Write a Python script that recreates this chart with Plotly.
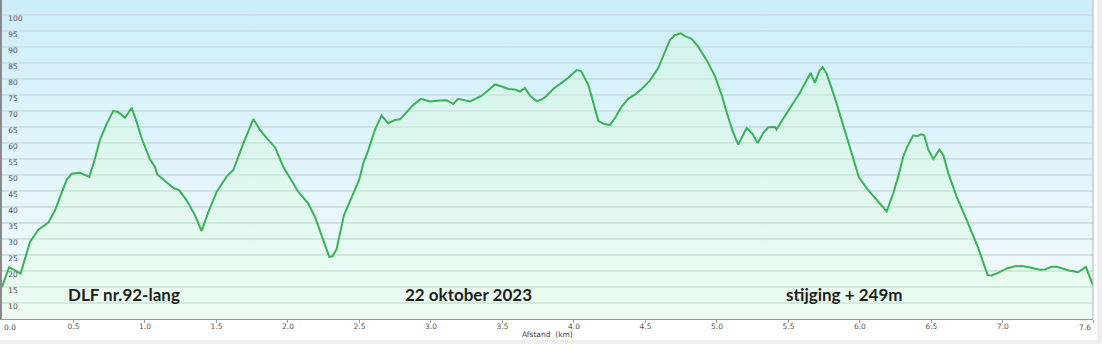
import base64
import plotly.graph_objects as go

dist_km = [
    0.0, 0.05, 0.09, 0.13, 0.196, 0.254, 0.324, 0.371, 0.452, 0.487,
    0.545, 0.611, 0.650, 0.685, 0.732, 0.778, 0.813, 0.860, 0.907, 0.942,
    0.977, 1.035, 1.070, 1.086, 1.140, 1.198, 1.240, 1.291, 1.350, 1.396,
    1.443, 1.501, 1.571, 1.618, 1.688, 1.758, 1.804, 1.851, 1.909, 1.967,
    2.072, 2.142, 2.189, 2.247, 2.289, 2.312, 2.340, 2.392, 2.445, 2.499,
    2.527, 2.562, 2.608, 2.655, 2.701, 2.748, 2.783, 2.830, 2.876, 2.930,
    2.993, 3.063, 3.110, 3.156, 3.191, 3.273, 3.320, 3.355, 3.401, 3.448,
    3.506, 3.541, 3.587, 3.622, 3.657, 3.692, 3.739, 3.774, 3.809, 3.855,
    3.913, 3.960, 4.019, 4.049, 4.100, 4.135, 4.170, 4.205, 4.252, 4.287,
    4.333, 4.380, 4.427, 4.473, 4.531, 4.590, 4.636, 4.671, 4.706, 4.746,
    4.776, 4.823, 4.869, 4.928, 4.986, 5.033, 5.068, 5.110, 5.149, 5.184,
    5.208, 5.249, 5.285, 5.324, 5.359, 5.406, 5.417, 5.452, 5.499, 5.534,
    5.580, 5.622, 5.655, 5.685, 5.716, 5.739, 5.767, 5.825, 5.884, 5.942,
    5.993, 6.047, 6.093, 6.140, 6.187, 6.233, 6.268, 6.303, 6.338, 6.373,
    6.401, 6.427, 6.450, 6.478, 6.513, 6.555, 6.583, 6.618, 6.677, 6.747,
    6.827, 6.893, 6.921, 6.967, 7.026, 7.084, 7.130, 7.189, 7.259, 7.294,
    7.340, 7.375, 7.421, 7.469, 7.526, 7.580, 7.630,
]
elev_m = [
    15.0, 21.2, 20.2, 19.2, 29.1, 32.9, 35.1, 39.0, 48.5, 50.4,
    50.7, 49.4, 55.1, 61.0, 66.0, 70.0, 69.7, 67.9, 71.0, 66.6,
    61.4, 54.9, 52.5, 50.2, 48.1, 46.0, 45.2, 42.1, 37.4, 32.5,
    38.4, 44.7, 49.5, 51.6, 59.9, 67.5, 64.1, 61.5, 58.7, 52.6,
    44.8, 41.1, 36.9, 29.6, 24.4, 24.6, 26.8, 37.5, 43.2, 48.6,
    53.7, 57.8, 64.1, 68.6, 66.2, 67.2, 67.4, 69.8, 71.9, 73.8,
    73.0, 73.3, 73.4, 72.2, 73.8, 73.0, 74.1, 74.8, 76.5, 78.3,
    77.5, 76.9, 76.7, 76.1, 77.2, 74.8, 73.1, 73.6, 74.8, 76.9,
    78.8, 80.4, 82.8, 82.5, 78.3, 72.5, 67.0, 66.0, 65.6, 67.8,
    71.3, 73.9, 75.1, 76.9, 79.5, 83.5, 88.7, 92.2, 93.7, 94.3,
    93.4, 92.6, 90.1, 85.9, 80.9, 75.1, 69.6, 63.7, 59.5, 62.6,
    64.7, 62.9, 60.0, 63.1, 64.9, 65.0, 64.2, 66.8, 69.9, 72.5,
    75.7, 79.3, 81.9, 78.8, 82.5, 83.7, 81.7, 74.1, 65.2, 56.9,
    49.3, 45.9, 43.6, 41.0, 38.6, 44.3, 49.5, 55.8, 59.5, 62.4,
    62.1, 62.7, 62.4, 57.9, 55.0, 57.9, 56.3, 50.6, 43.2, 35.9,
    27.2, 18.7, 18.6, 19.4, 20.8, 21.5, 21.6, 21.1, 20.4, 20.5,
    21.3, 21.3, 20.6, 20.1, 19.6, 21.3, 15.5,
]

x_tick_vals = [0.5, 1.0, 1.5, 2.0, 2.5, 3.0, 3.5, 4.0, 4.5, 5.0, 5.5, 6.0, 6.5, 7.0]
x_tick_text = ["0.5", "1.0", "1.5", "2.0", "2.5", "3.0", "3.5", "4.0", "4.5", "5.0",
               "5.5", "6.0", "6.5", "7.0"]
first_x_label = "0.0"
last_x_val = 7.63
last_x_label = "7.6"
y_tick_vals = [10, 15, 20, 25, 30, 35, 40, 45, 50, 55, 60, 65, 70, 75, 80, 85, 90, 95, 100]
x_title = "Afstand  (km)"
labels = ["DLF nr.92-lang", "22 oktober 2023", "stijging + 249m"]
label_x = [0.448, 2.802, 5.468]

X_RANGE = [0, 7.63]
Y_RANGE = [5, 104.7]

svg = ('<svg xmlns="http://www.w3.org/2000/svg" width="100" height="100" viewBox="0 0 100 100" '
       'preserveAspectRatio="none"><defs><linearGradient id="g" x1="0" y1="0" x2="0" y2="1">'
       '<stop offset="0" stop-color="#cdeef9"/><stop offset="1" stop-color="#f5fbfe"/>'
       '</linearGradient></defs><rect width="100" height="100" fill="url(#g)"/></svg>')
bg_src = "data:image/svg+xml;base64," + base64.b64encode(svg.encode()).decode()

fig = go.Figure()
fig.add_trace(go.Scatter(
    x=dist_km, y=elev_m, mode="lines",
    line=dict(color="#38b356", width=2),
    fill="tozeroy", fillcolor="rgba(215,255,210,0.30)",
    hoverinfo="skip", showlegend=False,
))

tick_font = dict(family="DejaVu Sans", size=7.5, color="#555555")

fig.update_layout(
    width=1102, height=344,
    margin=dict(l=2, r=9, t=0, b=25),
    paper_bgcolor="white",
    plot_bgcolor="rgba(0,0,0,0)",
    showlegend=False,
    images=[dict(source=bg_src, xref="paper", yref="paper", x=0, y=1,
                 sizex=1, sizey=1, xanchor="left", yanchor="top",
                 sizing="stretch", layer="below")],
    xaxis=dict(
        range=X_RANGE,
        tickvals=x_tick_vals + [last_x_val],
        ticktext=x_tick_text + [""],
        showgrid=False, zeroline=False,
        showline=True, linecolor="#9a9a9a", linewidth=1,
        ticks="outside", ticklen=3, tickcolor="#9a9a9a",
        ticklabelstandoff=-3,
        tickfont=tick_font,
    ),
    yaxis=dict(
        range=Y_RANGE, tickvals=y_tick_vals,
        showgrid=True, gridcolor="#cde0e6", gridwidth=1.5,
        zeroline=False,
        showline=True, linecolor="#8a8a8a", linewidth=1.5,
        ticks="", ticklabelposition="inside",
        ticklabelstandoff=5, ticklabelshift=3,
        tickfont=tick_font,
    ),
)

# right plot border
fig.add_shape(type="line", xref="paper", yref="paper", x0=1, x1=1, y0=0, y1=1,
              line=dict(color="#b5b5b5", width=1))
# grey page strips
fig.add_shape(type="rect", xref="paper", yref="paper", x0=-0.01, x1=1.02,
              y0=-0.09, y1=-0.066, line=dict(width=0), fillcolor="#efefef")
fig.add_shape(type="rect", xref="paper", yref="paper", x0=1.0037, x1=1.02,
              y0=-0.09, y1=1.01, line=dict(width=0), fillcolor="#efefef")

fig.add_annotation(x=0.056, y=-0.0075, xref="x", yref="paper", text=first_x_label,
                   showarrow=False, xanchor="center", yanchor="top", font=tick_font)
fig.add_annotation(x=last_x_val, y=-0.0075, xref="x", yref="paper", text=last_x_label,
                   showarrow=False, xanchor="right", yanchor="top", font=tick_font)
fig.add_annotation(x=0.5, y=-0.049, xref="paper", yref="paper", text=x_title,
                   showarrow=False, xanchor="center", yanchor="middle",
                   font=dict(family="DejaVu Sans", size=7.5, color="#444444"))

for t, lx in zip(labels, label_x):
    fig.add_annotation(x=lx, y=12.7, xref="x", yref="y", text=t, showarrow=False,
                       xanchor="left", yanchor="middle",
                       font=dict(family="Lato", size=17, color="#1e1e1e", weight="bold"))

fig.write_html("out.html")
